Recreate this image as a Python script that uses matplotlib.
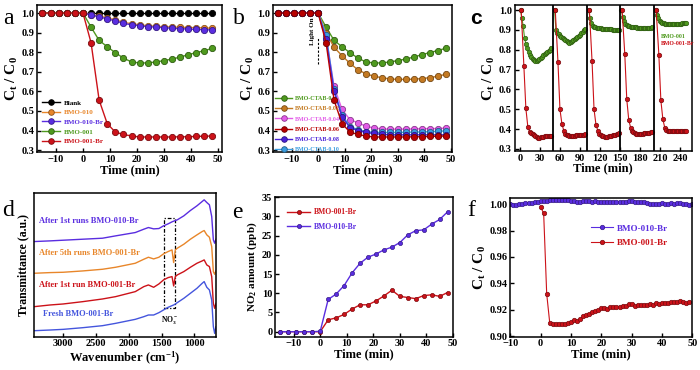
import matplotlib
matplotlib.use("Agg")
import matplotlib.pyplot as plt
from matplotlib.patches import Rectangle

plt.rcParams['font.family'] = ['Liberation Serif', 'DejaVu Serif']
plt.rcParams['font.weight'] = 'bold'
plt.rcParams['axes.labelweight'] = 'bold'
plt.rcParams['mathtext.fontset'] = 'custom'
plt.rcParams['mathtext.rm'] = 'Liberation Serif:bold'
plt.rcParams['mathtext.it'] = 'Liberation Serif:bold'

# ---------------- panel a ----------------
a_time = [-15, -12, -9, -6, -3, 0, 3, 6, 9, 12, 15, 18, 21, 24, 27, 30, 33, 36, 39, 42, 45, 48]
a_names = ['Blank', 'BMO-010', 'BMO-010-Br', 'BMO-001', 'BMO-001-Br']
a_blank = [1.0] * 22
a_bmo010 = [1.0, 1.0, 1.0, 1.0, 1.0, 1.0, 0.99, 0.985, 0.975, 0.965, 0.953, 0.945, 0.94, 0.935,
            0.932, 0.93, 0.928, 0.927, 0.926, 0.925, 0.924, 0.922]
a_bmo010br = [1.0, 1.0, 1.0, 1.0, 1.0, 1.0, 0.99, 0.98, 0.97, 0.96, 0.947, 0.94, 0.935, 0.93,
              0.928, 0.925, 0.922, 0.92, 0.918, 0.916, 0.915, 0.913]
a_bmo001 = [1.0, 1.0, 1.0, 1.0, 1.0, 1.0, 0.928, 0.86, 0.828, 0.797, 0.77, 0.75, 0.745, 0.745,
            0.75, 0.757, 0.765, 0.775, 0.787, 0.798, 0.808, 0.82]
a_bmo001br = [1.0, 1.0, 1.0, 1.0, 1.0, 1.0, 0.848, 0.555, 0.435, 0.392, 0.38, 0.372, 0.367, 0.367,
              0.367, 0.367, 0.367, 0.368, 0.368, 0.37, 0.371, 0.372]

# ---------------- panel b ----------------
b_names = ['BMO-CTAB-0', 'BMO-CTAB-0.02', 'BMO-CTAB-0.04', 'BMO-CTAB-0.06', 'BMO-CTAB-0.08', 'BMO-CTAB-0.10']
b_ctab0 = a_bmo001
b_ctab002 = [1.0, 1.0, 1.0, 1.0, 1.0, 1.0, 0.9, 0.825, 0.782, 0.743, 0.71, 0.69, 0.677, 0.67,
             0.663, 0.661, 0.661, 0.662, 0.665, 0.67, 0.677, 0.687]
b_ctab004 = [1.0, 1.0, 1.0, 1.0, 1.0, 1.0, 0.88, 0.625, 0.508, 0.455, 0.44, 0.422, 0.413, 0.408,
             0.407, 0.407, 0.407, 0.408, 0.409, 0.41, 0.41, 0.412]
b_ctab006 = a_bmo001br
b_ctab008 = [1.0, 1.0, 1.0, 1.0, 1.0, 1.0, 0.865, 0.6, 0.47, 0.415, 0.4, 0.39, 0.385, 0.38,
             0.378, 0.378, 0.378, 0.378, 0.378, 0.378, 0.378, 0.378]
b_ctab010 = [1.0, 1.0, 1.0, 1.0, 1.0, 1.0, 0.89, 0.61, 0.48, 0.42, 0.405, 0.395, 0.39, 0.39,
             0.39, 0.39, 0.391, 0.392, 0.393, 0.394, 0.396, 0.398]

# ---------------- panel c ----------------
c_starts = [1, 52, 103, 152, 203]
c_breaks = [50, 100, 150, 200]
c_rel_green = [0, 2, 4, 6, 8, 10, 12, 14, 16, 18, 20, 22, 24, 26, 28, 30, 32, 34, 36, 38, 40, 42, 44, 46]
c_green = [
    [1.0, 0.96, 0.92, 0.86, 0.83, 0.81, 0.79, 0.775, 0.765, 0.755, 0.75, 0.745, 0.745, 0.75,
     0.755, 0.76, 0.765, 0.772, 0.778, 0.785, 0.79, 0.795, 0.80, 0.81],
    [1.0, 0.90, 0.885, 0.878, 0.872, 0.866, 0.86, 0.853, 0.847, 0.842, 0.838, 0.836, 0.838, 0.842,
     0.847, 0.852, 0.858, 0.864, 0.87, 0.877, 0.884, 0.891, 0.898, 0.905],
    [1.0, 0.96, 0.935, 0.922, 0.916, 0.913, 0.911, 0.91, 0.909, 0.908, 0.907, 0.906, 0.905, 0.905,
     0.904, 0.904, 0.903, 0.903, 0.902, 0.902, 0.901, 0.901, 0.90, 0.90],
    [1.0, 0.965, 0.945, 0.932, 0.925, 0.921, 0.918, 0.916, 0.915, 0.914, 0.913, 0.913, 0.912, 0.912,
     0.912, 0.911, 0.911, 0.911, 0.911, 0.911, 0.912, 0.912, 0.912, 0.913],
    [1.0, 0.975, 0.958, 0.947, 0.94, 0.936, 0.934, 0.932, 0.931, 0.93, 0.93, 0.93, 0.93, 0.93,
     0.93, 0.93, 0.931, 0.931, 0.932, 0.932, 0.933, 0.933, 0.934, 0.935],
]
c_rel_red = [1, 5, 8, 11, 14, 16, 18, 20, 22, 24, 26, 28, 30, 32, 34, 36, 38, 40, 42, 44, 46]
c_red = [
    [1.0, 0.72, 0.505, 0.41, 0.385, 0.38, 0.375, 0.37, 0.365, 0.36, 0.355, 0.355, 0.36, 0.36,
     0.362, 0.363, 0.363, 0.364, 0.364, 0.365, 0.365],
    [1.0, 0.74, 0.50, 0.425, 0.39, 0.378, 0.37, 0.368, 0.366, 0.365, 0.365, 0.366, 0.367, 0.368,
     0.369, 0.37, 0.37, 0.371, 0.372, 0.372, 0.373],
    [1.0, 0.745, 0.50, 0.42, 0.39, 0.378, 0.37, 0.366, 0.363, 0.362, 0.362, 0.362, 0.363, 0.364,
     0.366, 0.368, 0.37, 0.372, 0.374, 0.377, 0.38],
    [1.0, 0.78, 0.55, 0.445, 0.405, 0.392, 0.385, 0.38, 0.378, 0.377, 0.377, 0.377, 0.378, 0.378,
     0.379, 0.38, 0.381, 0.382, 0.383, 0.385, 0.386],
    [1.0, 0.775, 0.545, 0.45, 0.405, 0.395, 0.39, 0.39, 0.39, 0.39, 0.39, 0.39, 0.39, 0.39,
     0.39, 0.39, 0.391, 0.391, 0.392, 0.392, 0.392],
]

# ---------------- panel d ----------------
d_wn = [3440, 3200, 3000, 2700, 2400, 2200, 1900, 1770, 1700, 1620, 1540, 1470, 1400, 1340,
        1315, 1290, 1260, 1160, 1060, 960, 880, 850, 810, 770, 735, 710, 690, 670]
d_labels = ['After 1st runs BMO-010-Br', 'After 5th runs BMO-001-Br',
            'After 1st run BMO-001-Br', 'Fresh BMO-001-Br']
d_run1_010 = [2.85, 2.87, 2.89, 2.92, 2.95, 3.02, 3.12, 3.22, 3.27, 3.23, 3.24, 3.32, 3.38, 3.44,
              3.46, 3.48, 3.50, 3.62, 3.78, 3.92, 4.05, 4.10, 4.02, 3.95, 3.60, 2.90, 2.80, 2.92]
d_run5_001 = [1.90, 1.92, 1.93, 1.97, 2.02, 2.08, 2.20, 2.32, 2.38, 2.33, 2.38, 2.48, 2.55, 2.60,
              2.22, 2.60, 2.65, 2.77, 2.92, 3.05, 3.15, 3.18, 3.05, 2.98, 2.70, 1.95, 1.87, 1.98]
d_run1_001 = [0.90, 0.95, 0.98, 1.05, 1.13, 1.20, 1.35, 1.50, 1.55, 1.48, 1.58, 1.70, 1.77, 1.80,
              1.52, 1.80, 1.85, 1.95, 2.08, 2.20, 2.27, 2.30, 2.15, 2.10, 1.80, 1.00, 0.85, 1.00]
d_fresh = [0.18, 0.20, 0.22, 0.27, 0.33, 0.40, 0.52, 0.60, 0.65, 0.65, 0.72, 0.80, 0.88, 0.93,
           0.95, 0.98, 1.02, 1.15, 1.30, 1.45, 1.60, 1.65, 1.48, 1.40, 1.10, 0.30, 0.10, 0.30]

# ---------------- panel e ----------------
e_time = [-15, -12, -9, -6, -3, 0, 3, 6, 9, 12, 15, 18, 21, 24, 27, 30, 33, 36, 39, 42, 45, 48]
e_001br = [0, 0, 0, 0, 0, 0, 3.1, 3.6, 4.5, 5.9, 7.0, 7.0, 8.0, 9.3, 10.8, 9.2, 8.9, 8.6, 9.4,
           9.6, 9.2, 10.2]
e_010br = [0, 0, 0, 0, 0, 0.1, 8.4, 9.8, 12.0, 15.3, 17.8, 19.4, 20.2, 21.3, 22.0, 23.2, 25.2,
           26.3, 26.5, 28.0, 29.2, 31.2]

# ---------------- panel f ----------------
f_time_010 = list(range(-10, 51))
f_010br = [1.0005, 0.9995, 0.9995, 1.0, 1.0005, 1.001, 1.001, 1.0012, 1.0015, 1.002, 1.0022,
           1.0025, 1.0028, 1.003, 1.003, 1.003, 1.003, 1.0032, 1.003, 1.003, 1.0025, 1.0025,
           1.002, 1.002, 1.0025, 1.0025, 1.0025, 1.002, 1.0025, 1.002, 1.0015, 1.002, 1.002,
           1.0015, 1.002, 1.002, 1.0015, 1.002, 1.002, 1.0025, 1.0025, 1.002, 1.002, 1.0015,
           1.0015, 1.001, 1.0005, 1.0005, 1.0, 1.0005, 1.001, 1.0005, 1.0005, 1.001, 1.0005,
           1.001, 1.001, 1.0005, 1.0, 0.9995, 1.0]
f_time_001 = list(range(0, 50))
f_001br = [0.998, 0.993, 0.932, 0.910, 0.909, 0.9095, 0.9095, 0.9095, 0.9095, 0.910, 0.911,
           0.912, 0.9115, 0.913, 0.915, 0.916, 0.917, 0.918, 0.919, 0.920, 0.921, 0.921, 0.9205,
           0.922, 0.922, 0.922, 0.922, 0.9225, 0.923, 0.924, 0.924, 0.923, 0.9235, 0.9235,
           0.9235, 0.9235, 0.924, 0.9235, 0.925, 0.9245, 0.925, 0.925, 0.925, 0.9255, 0.9255,
           0.926, 0.9265, 0.926, 0.925, 0.926]

BLACK = '#000000'
ORANGE = '#e8862a'
PURPLE = '#5a2de0'
GREEN = '#4f9a1e'
RED = '#cc1219'
BROWN = '#c47a22'
MAGENTA = '#e25ce8'
DARKRED = '#b80000'
BLUE8 = '#4a22d8'
LBLUE = '#3a9de0'
BLUEF = '#4455dd'

CT = r'C$_\mathregular{t}$ / C$_\mathregular{0}$'
TICK = 7.5
XLAB = 9
YLAB = 11


def style(ax, size=TICK):
    for s in ax.spines.values():
        s.set_linewidth(1.1)
    ax.tick_params(direction='in', labelsize=size, width=1, length=3, pad=2)


def darker(c):
    r, g, b = matplotlib.colors.to_rgb(c)
    return (r * 0.6, g * 0.6, b * 0.6)


fig = plt.figure(figsize=(7.0, 3.7), dpi=100)

# a
ax = fig.add_axes([0.053, 0.589, 0.264, 0.397])
for vals, col, name in zip([a_blank, a_bmo010, a_bmo010br, a_bmo001, a_bmo001br],
                           [BLACK, ORANGE, PURPLE, GREEN, RED], a_names):
    ax.plot(a_time, vals, '-o', color=col, ms=4.5, lw=1, mec=darker(col), mew=0.6, label=name)
ax.set_xlim(-17, 51.5)
ax.set_ylim(0.29, 1.04)
ax.set_xticks([-10, 0, 10, 20, 30, 40, 50])
ax.set_yticks([0.3, 0.4, 0.5, 0.6, 0.7, 0.8, 0.9, 1.0])
ax.set_xlabel('Time (min)', fontsize=XLAB, labelpad=0)
ax.set_ylabel(CT, fontsize=YLAB, labelpad=1)
ax.legend(loc='lower left', bbox_to_anchor=(0.0, 0.02), frameon=False, fontsize=5,
          labelcolor='linecolor', handlelength=2.6, labelspacing=0.55, borderpad=0.2,
          handletextpad=0.6, markerscale=0.9)
style(ax)

# b
ax = fig.add_axes([0.390, 0.589, 0.256, 0.397])
b_z = [2.1, 2.2, 2.3, 2.6, 2.5, 2.4]
for vals, col, name, zo in zip([b_ctab0, b_ctab002, b_ctab004, b_ctab006, b_ctab008, b_ctab010],
                               [GREEN, BROWN, MAGENTA, DARKRED, BLUE8, LBLUE], b_names, b_z):
    ax.plot(a_time, vals, '-o', color=col, ms=4.5, lw=1, mec=darker(col), mew=0.6, label=name,
            zorder=zo)
ax.set_xlim(-17, 50.5)
ax.set_ylim(0.29, 1.04)
ax.set_xticks([-10, 0, 10, 20, 30, 40, 50])
ax.set_yticks([0.3, 0.4, 0.5, 0.6, 0.7, 0.8, 0.9, 1.0])
ax.set_xlabel('Time (min)', fontsize=XLAB, labelpad=0)
ax.set_ylabel(CT, fontsize=YLAB, labelpad=1)
ax.plot([0, 0], [0.74, 0.87], ls=(0, (2, 1.5)), color='black', lw=0.8)
ax.text(-2, 0.905, 'Light On', rotation=90, fontsize=5, ha='center', va='center')
ax.legend(loc='lower left', bbox_to_anchor=(-0.01, -0.03), frameon=False, fontsize=4.3,
          labelcolor='linecolor', handlelength=2.8, labelspacing=0.85, borderpad=0.2,
          handletextpad=0.5, markerscale=0.9)
style(ax)

# c
ax = fig.add_axes([0.735, 0.592, 0.253, 0.394])
for k, st in enumerate(c_starts):
    ax.plot([st + t for t in c_rel_green], c_green[k], '-o', color=GREEN, ms=3.2, lw=0.8,
            mec=darker(GREEN), mew=0.5)
    ax.plot([st + t for t in c_rel_red], c_red[k], '-o', color=RED, ms=3.2, lw=0.8,
            mec=darker(RED), mew=0.5)
for xb in c_breaks:
    ax.axvline(xb, color='black', lw=1.3)
ax.set_xlim(-8, 257)
ax.set_ylim(0.29, 1.025)
ax.set_xticks([0, 30, 60, 90, 120, 150, 180, 210, 240])
ax.set_yticks([0.3, 0.4, 0.5, 0.6, 0.7, 0.8, 0.9, 1.0])
ax.set_xlabel('Time (min)', fontsize=XLAB, labelpad=0)
ax.set_ylabel(CT, fontsize=YLAB, labelpad=1)
ax.text(211, 0.868, 'BMO-001', color=GREEN, fontsize=4.2, ha='left', va='center')
ax.text(211, 0.83, 'BMO-001-Br', color=RED, fontsize=4.2, ha='left', va='center')
style(ax)

# d
ax = fig.add_axes([0.048, 0.090, 0.261, 0.388])
for vals, col in zip([d_run1_010, d_run5_001, d_run1_001, d_fresh], [PURPLE, ORANGE, RED, BLUEF]):
    ax.plot(d_wn, vals, '-', color=col, lw=1)
ax.set_xlim(3450, 665)
ax.set_ylim(0, 4.3)
ax.set_xticks([3000, 2500, 2000, 1500, 1000])
ax.set_yticks([])
ax.set_xlabel('Wavenumber (cm$^{-1}$)', fontsize=XLAB, labelpad=1)
ax.set_ylabel('Transmittance (a.u.)', fontsize=8.5, labelpad=3)
ax.add_patch(Rectangle((1460, 0.85), -170, 2.7, fill=False, ls=(0, (3, 1.5, 1, 1.5)),
                       lw=0.9, color='black'))
ax.text(1375, 0.5, 'NO$_3^-$', fontsize=5.5, ha='center', va='center')
ax.text(3370, 3.48, d_labels[0], color=PURPLE, fontsize=6, ha='left', va='center')
ax.text(3370, 2.5, d_labels[1], color=ORANGE, fontsize=6, ha='left', va='center')
ax.text(3370, 1.55, d_labels[2], color=RED, fontsize=6, ha='left', va='center')
ax.text(3300, 0.67, d_labels[3], color=BLUEF, fontsize=6, ha='left', va='center')
style(ax)

# e
ax = fig.add_axes([0.393, 0.090, 0.254, 0.377])
ax.plot(e_time, e_001br, '-o', color=RED, ms=3, lw=1, mec=darker(RED), mew=0.5, label='BMO-001-Br')
ax.plot(e_time, e_010br, '-o', color=PURPLE, ms=3, lw=1, mec=darker(PURPLE), mew=0.5, label='BMO-010-Br')
ax.set_xlim(-17, 50)
ax.set_ylim(-1.3, 35)
ax.set_xticks([-10, 0, 10, 20, 30, 40, 50])
ax.set_yticks([0, 5, 10, 15, 20, 25, 30, 35])
ax.set_xlabel('Time (min)', fontsize=XLAB, labelpad=0)
ax.set_ylabel('NO$_2$ amount (ppb)', fontsize=8, labelpad=2)
ax.legend(loc='upper left', bbox_to_anchor=(0.03, 0.97), frameon=False, fontsize=5.5,
          labelcolor='linecolor', handlelength=3, labelspacing=0.9, handletextpad=0.5)
style(ax)

# f
ax = fig.add_axes([0.729, 0.090, 0.260, 0.374])
ax.plot(f_time_010, f_010br, '-o', color=PURPLE, ms=3.2, lw=0.8, mec=darker(PURPLE), mew=0.5,
        label='BMO-010-Br')
ax.plot(f_time_001, f_001br, '-o', color=RED, ms=3.2, lw=0.8, mec=darker(RED), mew=0.5,
        label='BMO-001-Br')
ax.set_xlim(-10, 50)
ax.set_ylim(0.8995, 1.0045)
ax.set_xticks([-10, 0, 10, 20, 30, 40, 50])
ax.set_yticks([0.90, 0.92, 0.94, 0.96, 0.98, 1.00])
ax.yaxis.set_major_formatter(matplotlib.ticker.FormatStrFormatter('%.2f'))
ax.set_xlabel('Time (min)', fontsize=XLAB, labelpad=0)
ax.set_ylabel(CT, fontsize=YLAB, labelpad=1)
ax.legend(loc='center left', bbox_to_anchor=(0.4, 0.73), frameon=False, fontsize=6.5,
          labelcolor='linecolor', handlelength=2.4, labelspacing=0.7, handletextpad=0.4)
style(ax)

# panel letters
for lx, ly, letter, fam in [(0.005, 0.95, 'a', 'serif'), (0.333, 0.95, 'b', 'serif'),
                            (0.672, 0.95, 'c', 'sans'), (0.003, 0.43, 'd', 'serif'),
                            (0.332, 0.425, 'e', 'serif'), (0.667, 0.43, 'f', 'serif')]:
    if fam == 'sans':
        fig.text(lx, ly, letter, fontsize=15, fontweight='bold', family='Liberation Sans',
                 ha='left', va='center')
    else:
        fig.text(lx, ly, letter, fontsize=17, fontweight='normal', ha='left', va='center')

fig.savefig('out.png', dpi=100)
